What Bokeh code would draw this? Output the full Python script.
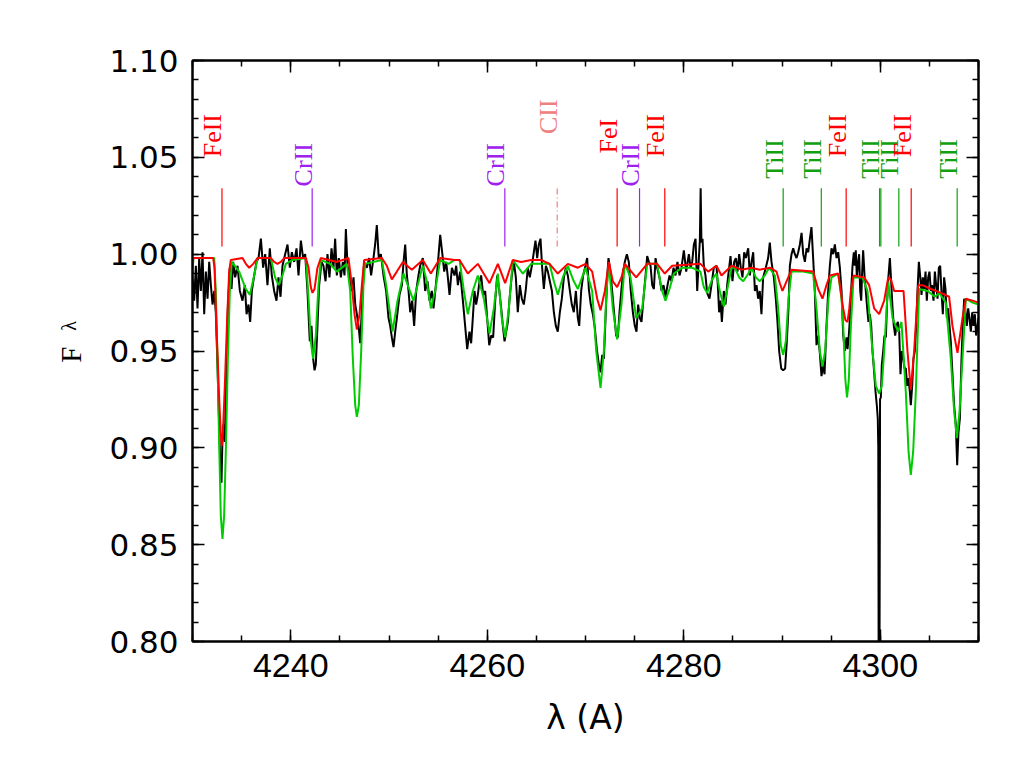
import math
from bokeh.plotting import figure
from bokeh.models import (ColumnDataSource, LinearAxis, Range1d, FixedTicker,
                          SingleIntervalTicker, NumeralTickFormatter)
from bokeh.core.properties import value
from bokeh.embed import file_html
from bokeh.resources import INLINE

# ---------------- data ----------------
obs_wl = [
 4230.00, 4230.17, 4230.34, 4230.51, 4230.68, 4230.85, 4231.02, 4231.19, 4231.36, 4231.53,
 4231.70, 4231.87, 4232.04, 4232.21, 4232.37, 4232.54, 4232.71, 4232.85, 4232.95, 4233.05,
 4233.15, 4233.29, 4233.43, 4233.60, 4233.80, 4233.97, 4234.14, 4234.34, 4234.58, 4234.82,
 4235.09, 4235.33, 4235.50, 4235.70, 4235.87, 4236.04, 4236.28, 4236.51, 4236.72, 4236.96,
 4237.19, 4237.40, 4237.63, 4237.87, 4238.07, 4238.31, 4238.55, 4238.75, 4238.96, 4239.16,
 4239.43, 4239.67, 4239.91, 4240.11, 4240.35, 4240.59, 4240.79, 4241.03, 4241.26, 4241.47,
 4241.70, 4241.94, 4242.11, 4242.28, 4242.42, 4242.55, 4242.72, 4242.89, 4243.13,
 4243.33, 4243.54, 4243.74, 4243.94, 4244.15, 4244.35, 4244.52, 4244.69, 4244.89, 4245.10,
 4245.30, 4245.47, 4245.61, 4245.78, 4245.98, 4246.22, 4246.39, 4246.56, 4246.73, 4246.90,
 4247.07, 4247.24, 4247.47, 4247.74, 4247.98, 4248.18, 4248.42, 4248.59, 4248.76, 4248.96,
 4249.17, 4249.44, 4249.71, 4249.95, 4250.12, 4250.29, 4250.46, 4250.63, 4250.80, 4251.07,
 4251.31, 4251.48, 4251.65, 4251.82, 4251.99, 4252.16, 4252.36, 4252.56, 4252.77, 4253.00,
 4253.17, 4253.44, 4253.68, 4253.92, 4254.12, 4254.36, 4254.53, 4254.73, 4254.94, 4255.21,
 4255.41, 4255.62, 4255.82, 4255.99, 4256.16, 4256.40, 4256.67,
 4256.84, 4257.01, 4257.24, 4257.52, 4257.75, 4257.96, 4258.19, 4258.36, 4258.53, 4258.70,
 4258.87, 4259.04, 4259.21, 4259.38, 4259.58, 4259.79, 4259.99, 4260.20, 4260.40, 4260.60,
 4260.81, 4261.01, 4261.21, 4261.42, 4261.59, 4261.76, 4261.93, 4262.10, 4262.27, 4262.50,
 4262.71, 4262.91, 4263.11, 4263.32, 4263.52, 4263.72, 4263.93, 4264.13, 4264.33, 4264.54,
 4264.74, 4264.91, 4265.08, 4265.25, 4265.42, 4265.59, 4265.76, 4265.97, 4266.17, 4266.37,
 4266.58, 4266.78, 4266.98, 4267.18, 4267.39, 4267.59, 4267.80, 4268.00, 4268.20, 4268.41,
 4268.61, 4268.81, 4269.02, 4269.22, 4269.36, 4269.56, 4269.76, 4270.00,
 4270.17, 4270.34, 4270.54, 4270.75, 4270.95, 4271.15, 4271.36, 4271.53, 4271.70, 4271.87,
 4272.04, 4272.21, 4272.34, 4272.54, 4272.71, 4272.92, 4273.12, 4273.29, 4273.46, 4273.66,
 4273.83, 4274.00, 4274.21, 4274.41, 4274.61, 4274.82, 4275.02, 4275.19, 4275.36, 4275.53,
 4275.70, 4275.90, 4276.11, 4276.28, 4276.45, 4276.62, 4276.79, 4276.96, 4277.13, 4277.29,
 4277.53, 4277.74, 4277.94, 4278.14, 4278.35, 4278.55, 4278.75, 4278.96, 4279.16, 4279.36,
 4279.57, 4279.77, 4280.01, 4280.25, 4280.52, 4280.69, 4280.86, 4281.03, 4281.20, 4281.37,
 4281.54, 4281.64, 4281.72, 4281.80, 4281.91, 4282.04, 4282.21, 4282.38, 4282.62, 4282.82,
 4283.06, 4283.33,
 4283.47, 4283.60, 4283.74, 4283.88, 4284.08, 4284.25, 4284.42, 4284.62, 4284.76, 4284.96,
 4285.13, 4285.30, 4285.47, 4285.64, 4285.81, 4285.98, 4286.15, 4286.32, 4286.56, 4286.73,
 4286.90, 4287.07, 4287.24, 4287.41, 4287.57, 4287.74, 4287.91, 4288.08, 4288.35, 4288.59,
 4288.76, 4288.93, 4289.17, 4289.37, 4289.54, 4289.71, 4289.92, 4290.12, 4290.32, 4290.49,
 4290.66, 4290.80, 4290.97, 4291.14, 4291.31, 4291.48, 4291.65, 4291.82, 4291.99, 4292.16,
 4292.33, 4292.50, 4292.67, 4292.84, 4293.00, 4293.17, 4293.34, 4293.51, 4293.68, 4293.85,
 4294.02, 4294.19, 4294.33, 4294.53, 4294.70, 4294.87, 4295.04, 4295.21, 4295.38, 4295.55,
 4295.72, 4295.89, 4296.06, 4296.23, 4296.40, 4296.57, 4296.67,
 4296.80, 4296.94, 4297.07, 4297.18, 4297.31, 4297.41, 4297.51, 4297.62, 4297.75, 4297.85,
 4297.96, 4298.06, 4298.16, 4298.26, 4298.40, 4298.53, 4298.67, 4298.80, 4298.94, 4299.08,
 4299.21, 4299.35, 4299.52, 4299.65, 4299.75, 4299.80, 4299.84, 4299.92, 4299.98, 4300.06,
 4300.16, 4300.30, 4300.43, 4300.57, 4300.70, 4300.84, 4300.98, 4301.11, 4301.25, 4301.38,
 4301.52, 4301.65, 4301.79, 4301.93, 4302.06, 4302.20, 4302.33, 4302.47, 4302.60, 4302.74,
 4302.88, 4303.01, 4303.11, 4303.25, 4303.38, 4303.52, 4303.66, 4303.79, 4303.93, 4304.06,
 4304.20, 4304.33, 4304.47, 4304.61, 4304.74, 4304.88, 4305.01, 4305.15, 4305.28, 4305.42,
 4305.56, 4305.69, 4305.83, 4305.96, 4306.10, 4306.23, 4306.37, 4306.50, 4306.64, 4306.78,
 4306.91, 4307.05, 4307.18, 4307.35, 4307.52, 4307.69, 4307.83, 4307.96, 4308.10, 4308.27,
 4308.40, 4308.54, 4308.68, 4308.81, 4308.95, 4309.08, 4309.22, 4309.36, 4309.49, 4309.63,
 4309.76, 4309.90, 4310.00,
]
obs_flux = [
 0.989, 0.976, 0.994, 0.972, 0.998, 0.981, 1.001, 0.969, 0.991, 0.977,
 0.996, 0.984, 0.974, 0.981, 0.970, 0.943, 0.912, 0.888, 0.882, 0.905,
 0.912, 0.903, 0.938, 0.972, 0.993, 0.982, 0.996, 0.988, 0.994, 0.981,
 0.976, 0.984, 0.969, 0.974, 0.965, 0.981, 0.989, 0.996, 0.998, 1.008,
 0.993, 1.000, 0.984, 1.003, 0.989, 0.981, 0.976, 0.988, 0.978, 0.994,
 1.000, 1.005, 0.993, 1.001, 0.996, 1.003, 0.989, 1.007, 0.998, 1.000,
 0.981, 0.955, 0.963, 0.946, 0.940, 0.943, 0.963, 0.984, 0.996,
 0.994, 0.986, 1.000, 0.988, 1.003, 0.993, 1.008, 0.989, 0.998, 0.988,
 0.996, 0.989, 1.013, 0.994, 0.989, 0.981, 0.988, 0.974, 0.969, 0.963,
 0.954, 0.972, 0.996, 0.993, 0.998, 0.989, 0.998, 1.005, 1.015, 0.998,
 1.000, 0.989, 0.981, 0.967, 0.963, 0.957, 0.952, 0.960, 0.967, 0.979,
 0.984, 0.996, 1.005, 0.989, 0.981, 0.970, 0.976, 0.963, 0.981, 0.989,
 0.994, 0.998, 0.981, 0.986, 0.976, 0.981, 0.972, 0.982, 0.993, 1.010,
 1.001, 0.991, 0.996, 0.988, 0.979, 0.993, 0.989,
 0.994, 0.984, 0.991, 0.976, 0.963, 0.951, 0.960, 0.954, 0.967, 0.981,
 0.974, 0.979, 0.986, 0.989, 0.979, 0.981, 0.967, 0.953, 0.958, 0.957,
 0.976, 0.989, 0.982, 0.972, 0.963, 0.955, 0.960, 0.965, 0.977, 0.989,
 0.996, 0.988, 0.970, 0.984, 0.977, 0.974, 0.982, 0.993, 0.988, 0.994,
 1.001, 1.007, 0.998, 1.005, 1.008, 0.993, 0.982, 0.994, 0.991, 0.986,
 0.981, 0.970, 0.963, 0.960, 0.970, 0.977, 0.988, 0.993, 0.989, 0.981,
 0.974, 0.970, 0.981, 0.967, 0.963, 0.981, 0.989, 0.994,
 0.998, 0.982, 0.974, 0.969, 0.962, 0.951, 0.943, 0.939, 0.948, 0.946,
 0.967, 0.988, 0.998, 0.991, 0.981, 0.969, 0.958, 0.957, 0.970, 0.982,
 0.991, 0.996, 1.000, 0.996, 0.981, 0.970, 0.963, 0.960, 0.974, 0.967,
 0.965, 0.977, 0.989, 0.999, 0.996, 0.994, 0.984, 0.982, 0.998, 0.993,
 0.988, 0.981, 0.984, 0.978, 0.984, 0.989, 0.986, 0.993, 0.989, 0.996,
 0.989, 0.993, 1.002, 0.991, 1.000, 0.993, 0.996, 1.005, 1.008, 0.981,
 0.998, 1.007, 1.034, 1.006, 1.008, 0.994, 0.989, 0.980, 0.977, 0.984,
 0.993, 0.994,
 0.984, 0.970, 0.976, 0.965, 0.981, 0.974, 0.984, 0.993, 0.999, 0.986,
 0.996, 0.998, 0.991, 1.000, 0.993, 0.988, 1.001, 0.998, 1.003, 0.989,
 0.996, 1.001, 0.981, 0.984, 0.977, 0.981, 0.969, 0.988, 0.993, 0.998,
 1.006, 0.996, 0.988, 0.977, 0.965, 0.950, 0.941, 0.940, 0.941, 0.955,
 0.972, 0.994, 1.000, 1.003, 1.000, 0.998, 1.001, 1.005, 1.011, 1.000,
 0.996, 1.003, 1.001, 1.008, 1.014, 0.998, 0.981, 0.953, 0.958, 0.949,
 0.937, 0.943, 0.938, 0.963, 0.981, 0.994, 1.003, 1.000, 1.005, 0.998,
 1.001, 0.993, 0.981, 0.958, 0.950, 0.957, 0.951,
 0.958, 0.969, 0.984, 0.994, 1.001, 0.994, 1.002, 0.988, 0.996, 1.000,
 0.981, 0.976, 0.991, 1.002, 0.989, 0.981, 0.972, 0.965, 0.969, 0.963,
 0.950, 0.941, 0.929, 0.922, 0.915, 0.900, 0.780, 0.780, 0.925, 0.926,
 0.943, 0.950, 0.958, 0.957, 0.976, 0.989, 0.998, 0.986, 0.972, 0.963,
 0.958, 0.963, 0.965, 0.960, 0.938, 0.950, 0.947, 0.941, 0.941, 0.932,
 0.936, 0.929, 0.922, 0.932, 0.946, 0.950, 0.963, 0.981, 0.996, 0.989,
 0.979, 0.988, 0.982, 0.991, 0.976, 0.988, 0.991, 0.981, 0.984, 0.976,
 0.991, 0.984, 0.977, 0.993, 0.994, 0.981, 0.969, 0.988, 0.982, 0.967,
 0.972, 0.963, 0.955, 0.938, 0.922, 0.912, 0.891, 0.908, 0.915, 0.946,
 0.963, 0.977, 0.970, 0.963, 0.972, 0.967, 0.960, 0.970, 0.963, 0.969,
 0.958, 0.963, 0.967,
]

green_wl = [
 4230.00, 4230.08, 4232.21, 4232.37, 4232.54, 4232.71, 4232.88, 4233.05, 4233.22, 4233.39,
 4233.60, 4233.80, 4234.00, 4234.75, 4235.43, 4235.84, 4236.28, 4236.62, 4237.97, 4238.41,
 4238.75, 4239.16, 4239.50, 4240.18, 4241.54, 4241.81, 4242.04, 4242.28, 4242.55, 4242.82,
 4243.06, 4244.01, 4244.69, 4245.71, 4246.05, 4246.32, 4246.56, 4246.73, 4246.93, 4247.17,
 4247.40, 4247.57, 4249.27, 4249.71, 4250.36, 4250.87, 4251.48, 4252.49, 4253.44, 4253.85,
 4254.26, 4254.70, 4255.21, 4256.06, 4256.67, 4257.18, 4257.62, 4258.02, 4258.53, 4259.04,
 4259.65, 4260.23, 4260.67, 4261.08, 4261.48, 4261.82, 4262.20, 4262.60, 4263.62, 4264.47,
 4266.34, 4266.78, 4267.18, 4267.69, 4268.20, 4268.81, 4269.22, 4269.73, 4270.00, 4270.68,
 4271.09, 4271.53, 4271.87, 4272.14, 4272.38, 4272.78, 4273.22, 4273.66, 4274.00, 4274.58,
 4275.16, 4275.77, 4276.28, 4277.29, 4277.74, 4278.14, 4278.55, 4278.99, 4279.84, 4280.86,
 4281.70, 4282.04, 4282.38, 4282.89, 4283.33, 4283.67, 4284.08, 4284.52, 4284.86, 4285.20,
 4285.64, 4286.05, 4286.45, 4286.90, 4287.34, 4287.74, 4288.25, 4288.69, 4289.27, 4289.61,
 4289.88, 4290.12, 4290.39, 4290.66, 4290.97, 4292.16, 4293.17, 4293.51, 4293.85, 4294.12,
 4294.39, 4294.73, 4295.04, 4295.72, 4296.06, 4296.23, 4296.45, 4296.62, 4296.80, 4297.01,
 4297.28, 4298.19, 4298.70, 4299.21, 4299.55, 4299.89, 4300.16, 4300.40, 4300.81, 4301.25,
 4301.82, 4302.16, 4302.60, 4302.88, 4303.11, 4303.35, 4303.62, 4303.96, 4304.81, 4305.56,
 4306.00, 4306.67, 4307.18, 4307.52, 4307.80, 4308.07, 4308.37, 4308.71, 4309.39, 4310.00,
]
green_flux = [
 0.987, 0.998, 0.998, 0.981, 0.946, 0.903, 0.865, 0.853, 0.865, 0.898,
 0.946, 0.981, 0.996, 0.991, 0.982, 0.979, 0.989, 0.998, 0.998, 0.988,
 0.984, 0.989, 0.995, 0.997, 0.998, 0.977, 0.955, 0.946, 0.958, 0.984,
 0.997, 0.995, 0.991, 0.995, 0.981, 0.946, 0.922, 0.916, 0.922, 0.950,
 0.984, 0.995, 0.997, 0.984, 0.960, 0.976, 0.990, 0.976, 0.994, 0.986,
 0.972, 0.981, 0.997, 0.995, 0.997, 0.997, 0.981, 0.969, 0.981, 0.989,
 0.977, 0.959, 0.972, 0.990, 0.967, 0.957, 0.972, 0.997, 0.990, 0.995,
 0.995, 0.986, 0.979, 0.988, 0.994, 0.986, 0.982, 0.989, 0.993, 0.981,
 0.950, 0.931, 0.950, 0.981, 0.995, 0.972, 0.956, 0.974, 0.995, 0.988,
 0.967, 0.972, 0.995, 0.995, 0.982, 0.976, 0.982, 0.990, 0.993, 0.993,
 0.991, 0.983, 0.980, 0.987, 0.990, 0.981, 0.973, 0.984, 0.993, 0.993,
 0.988, 0.986, 0.989, 0.993, 0.988, 0.986, 0.989, 0.993, 0.989, 0.972,
 0.953, 0.948, 0.955, 0.977, 0.991, 0.991, 0.990, 0.972, 0.950, 0.942,
 0.950, 0.977, 0.988, 0.990, 0.977, 0.963, 0.935, 0.926, 0.935, 0.963,
 0.988, 0.988, 0.981, 0.950, 0.932, 0.928, 0.932, 0.950, 0.986, 0.967,
 0.960, 0.965, 0.929, 0.898, 0.886, 0.898, 0.929, 0.982, 0.981, 0.978,
 0.980, 0.975, 0.946, 0.919, 0.905, 0.919, 0.946, 0.977, 0.975, 0.974,
]

red_wl = [
 4230.00, 4230.08, 4232.10, 4232.24, 4232.44, 4232.71, 4232.88, 4232.99, 4233.09, 4233.29,
 4233.53, 4233.73, 4233.90, 4235.09, 4235.43, 4235.77, 4236.18, 4236.62, 4237.97, 4238.31,
 4238.65, 4238.99, 4239.33, 4241.54, 4241.81, 4242.04, 4242.21, 4242.42, 4242.72, 4243.06,
 4244.69, 4245.88, 4246.22, 4246.49, 4246.73, 4247.00, 4247.24, 4247.47, 4249.27, 4249.78,
 4250.29, 4250.80, 4251.41, 4252.32, 4253.44, 4254.26, 4255.21, 4256.67, 4257.18, 4258.02,
 4259.04, 4260.23, 4261.08, 4261.82, 4262.60, 4263.45, 4264.47, 4265.49, 4266.34, 4267.18,
 4268.20, 4269.22, 4270.00, 4270.68, 4271.19, 4271.53, 4271.97, 4272.38, 4272.78, 4273.22,
 4273.66, 4274.00, 4275.16, 4276.28, 4277.29, 4278.07, 4278.82, 4281.70, 4282.49, 4283.33,
 4283.84, 4284.86, 4285.88, 4286.90, 4287.74, 4288.76, 4289.44, 4289.78, 4290.05, 4290.46,
 4290.97, 4293.17, 4293.68, 4294.12, 4294.53, 4294.87, 4295.72, 4296.23, 4296.45, 4296.67,
 4296.85, 4297.01, 4297.28, 4298.36, 4298.87, 4299.38, 4299.89, 4300.40, 4300.81, 4301.08,
 4301.42, 4302.37, 4302.77, 4303.11, 4303.45, 4303.86, 4304.30, 4305.15, 4306.17, 4307.01,
 4307.35, 4307.86, 4308.37, 4308.71, 4309.39, 4310.00,
]
red_flux = [
 0.990, 0.998, 0.998, 0.993, 0.963, 0.926, 0.907, 0.901, 0.907, 0.932,
 0.967, 0.991, 0.997, 0.998, 0.995, 0.993, 0.995, 0.998, 0.998, 0.996,
 0.995, 0.996, 0.998, 0.998, 0.993, 0.983, 0.980, 0.982, 0.993, 0.998,
 0.996, 0.998, 0.984, 0.969, 0.961, 0.969, 0.984, 0.997, 0.998, 0.994,
 0.987, 0.991, 0.996, 0.992, 0.997, 0.990, 0.998, 0.997, 0.997, 0.990,
 0.995, 0.985, 0.995, 0.985, 0.997, 0.996, 0.997, 0.997, 0.995, 0.990,
 0.995, 0.993, 0.995, 0.991, 0.977, 0.971, 0.981, 0.996, 0.986, 0.983,
 0.988, 0.995, 0.988, 0.995, 0.995, 0.990, 0.994, 0.995, 0.991, 0.994,
 0.989, 0.994, 0.992, 0.993, 0.992, 0.993, 0.991, 0.985, 0.981, 0.986,
 0.992, 0.991, 0.982, 0.977, 0.984, 0.989, 0.990, 0.972, 0.966, 0.965,
 0.972, 0.981, 0.989, 0.988, 0.984, 0.972, 0.969, 0.976, 0.988, 0.987,
 0.981, 0.981, 0.950, 0.930, 0.950, 0.984, 0.984, 0.982, 0.980, 0.978,
 0.963, 0.949, 0.967, 0.977, 0.976, 0.975,
]

# line identifications
line_wl = [4233.00, 4242.18, 4261.79, 4267.12, 4273.22, 4275.50, 4278.07,
           4290.12, 4294.00, 4296.53, 4299.93, 4300.06, 4301.89, 4303.15, 4307.83]
line_ion = ["FeII", "CrII", "CrII", "CII", "FeI", "CrII", "FeII",
            "TiII", "TiII", "FeII", "TiII", "", "TiII", "FeII", "TiII"]
label_start = [1.050, 1.035, 1.035, 1.062, 1.052, 1.035, 1.050,
               1.039, 1.039, 1.050, 1.039, 1.039, 1.039, 1.050, 1.039]
mark_bottom = 1.004
mark_top = 1.034

ion_color = {"FeII": "#ff0000", "FeI": "#ff0000", "CrII": "#a020f0",
             "TiII": "#10a010", "CII": "#f08080", "": "#10a010"}

x_ticks_major = 20
y_ticks_major = 0.05

# ---------------- figure ----------------
p = figure(frame_width=786, frame_height=581,
           x_range=Range1d(4230, 4310), y_range=Range1d(0.80, 1.10),
           output_backend="svg", toolbar_location=None,
           min_border_left=192, min_border_right=49,
           min_border_top=60, min_border_bottom=114)
p.grid.visible = False
p.background_fill_color = "white"
p.border_fill_color = "white"
p.outline_line_color = "black"
p.outline_line_width = 2

def style_axis(ax):
    ax.axis_line_width = 2
    ax.axis_line_color = "black"
    ax.major_tick_in = 12
    ax.major_tick_out = 0
    ax.minor_tick_in = 6
    ax.minor_tick_out = 0
    ax.major_tick_line_width = 1.5
    ax.minor_tick_line_width = 1.5
    ax.major_tick_line_color = "black"
    ax.minor_tick_line_color = "black"

xax = p.below[0]
yax = p.left[0]
xax.ticker = SingleIntervalTicker(interval=x_ticks_major, num_minor_ticks=4)
yax.ticker = SingleIntervalTicker(interval=y_ticks_major, num_minor_ticks=5)
xax.formatter = NumeralTickFormatter(format="0")
yax.formatter = NumeralTickFormatter(format="0.00")
style_axis(xax)
style_axis(yax)
xax.major_label_text_font = "Liberation Sans"
xax.major_label_text_font_size = "34px"
xax.major_label_text_color = "black"
xax.major_label_standoff = 12
yax.major_label_text_font = "DejaVu Sans"
yax.major_label_text_font_size = "31px"
yax.major_label_text_color = "black"
yax.major_label_standoff = 14

top = LinearAxis(ticker=SingleIntervalTicker(interval=x_ticks_major, num_minor_ticks=4))
right = LinearAxis(ticker=SingleIntervalTicker(interval=y_ticks_major, num_minor_ticks=5))
for ax in (top, right):
    style_axis(ax)
    ax.major_label_text_color = None
    ax.major_label_text_font_size = "8px"
p.add_layout(top, "above")
p.add_layout(right, "right")

xax.axis_label = "λ (A)"
xax.axis_label_text_font = "DejaVu Sans"
xax.axis_label_text_font_size = "33px"
xax.axis_label_text_font_style = "normal"
xax.axis_label_text_color = "black"
xax.axis_label_standoff = 18

# y-axis title: "F" with a subscript lambda (second, tick-less axis carries the lambda)
yax.axis_label = "F\u00a0"
yax.axis_label_text_font = "Liberation Serif"
yax.axis_label_text_font_size = "29px"
yax.axis_label_text_font_style = "normal"
yax.axis_label_text_color = "black"
yax.axis_label_standoff = 19

sub = LinearAxis(ticker=FixedTicker(ticks=[]))
sub.axis_line_color = None
sub.major_tick_line_color = None
sub.minor_tick_line_color = None
sub.major_tick_in = 0
sub.major_tick_out = 0
sub.minor_tick_in = 0
sub.minor_tick_out = 0
sub.major_label_text_color = None
sub.major_label_text_font_size = "1px"
sub.axis_label = "\u00a0" * 10 + "λ"
sub.axis_label_text_font = "Liberation Serif"
sub.axis_label_text_font_size = "20px"
sub.axis_label_text_font_style = "normal"
sub.axis_label_text_color = "black"
sub.axis_label_standoff = -27
p.add_layout(sub, "left")

# spectra
p.line(obs_wl, obs_flux, line_color="black", line_width=2)
p.line(green_wl, green_flux, line_color="#00cc00", line_width=2)
p.line(red_wl, red_flux, line_color="#ff0000", line_width=2)

# identification marks
cols = [ion_color[i] for i in line_ion]
solid = [k for k, i in enumerate(line_ion) if i != "CII"]
dashed = [k for k, i in enumerate(line_ion) if i == "CII"]
src_s = ColumnDataSource(dict(x=[line_wl[k] for k in solid],
                              y0=[mark_bottom] * len(solid), y1=[mark_top] * len(solid),
                              c=[cols[k] for k in solid]))
p.segment(x0="x", x1="x", y0="y0", y1="y1", line_color="c", line_width=1.2, source=src_s)
src_d = ColumnDataSource(dict(x=[line_wl[k] for k in dashed],
                              y0=[mark_bottom] * len(dashed), y1=[mark_top] * len(dashed),
                              c=[cols[k] for k in dashed]))
p.segment(x0="x", x1="x", y0="y0", y1="y1", line_color="c", line_width=1.2,
          line_dash="6 3 1 3", source=src_d)

lab = [k for k, i in enumerate(line_ion) if i != ""]
src_t = ColumnDataSource(dict(x=[line_wl[k] for k in lab], y=[label_start[k] for k in lab],
                              t=[line_ion[k] for k in lab], c=[cols[k] for k in lab]))
p.text(x="x", y="y", text="t", text_color="c", angle=math.pi / 2,
       text_align="left", text_baseline="alphabetic", x_offset=-9,
       text_font=value("Liberation Serif"), text_font_size="26px", source=src_t)

open("out.html", "w").write(file_html(p, INLINE))
